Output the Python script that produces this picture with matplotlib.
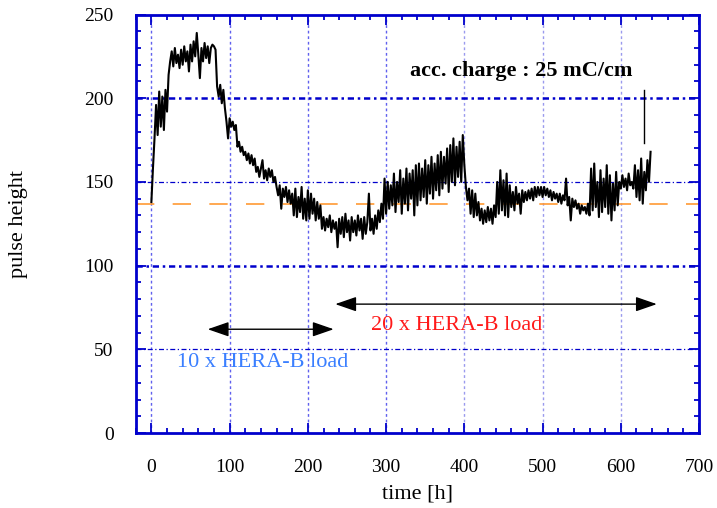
import matplotlib
matplotlib.use("Agg")
import matplotlib.pyplot as plt
import numpy as np

plt.rcParams['font.family'] = ['Liberation Serif', 'DejaVu Serif']

# time [h] and pulse height (2 h sampling)
time_h = [
    0, 2, 4, 6, 8, 10, 12, 14, 16, 18,
    20, 22, 24, 26, 28, 30, 32, 34, 36, 38,
    40, 42, 44, 46, 48, 50, 52, 54, 56, 58,
    60, 62, 64, 66, 68, 70, 72, 74, 76, 78,
    80, 82, 84, 86, 88, 90, 92, 94, 96, 98,
    100, 102, 104, 106, 108, 110, 112, 114, 116, 118,
    120, 122, 124, 126, 128, 130, 132, 134, 136, 138,
    140, 142, 144, 146, 148, 150, 152, 154, 156, 158,
    160, 162, 164, 166, 168, 170, 172, 174, 176, 178,
    180, 182, 184, 186, 188, 190, 192, 194, 196, 198,
    200, 202, 204, 206, 208, 210, 212, 214, 216, 218,
    220, 222, 224, 226, 228, 230, 232, 234, 236, 238,
    240, 242, 244, 246, 248, 250, 252, 254, 256, 258,
    260, 262, 264, 266, 268, 270, 272, 274, 276, 278,
    280, 282, 284, 286, 288, 290, 292, 294, 296, 298,
    300, 302, 304, 306, 308, 310, 312, 314, 316, 318,
    320, 322, 324, 326, 328, 330, 332, 334, 336, 338,
    340, 342, 344, 346, 348, 350, 352, 354, 356, 358,
    360, 362, 364, 366, 368, 370, 372, 374, 376, 378,
    380, 382, 384, 386, 388, 390, 392, 394, 396, 398,
    400, 402, 404, 406, 408, 410, 412, 414, 416, 418,
    420, 422, 424, 426, 428, 430, 432, 434, 436, 438,
    440, 442, 444, 446, 448, 450, 452, 454, 456, 458,
    460, 462, 464, 466, 468, 470, 472, 474, 476, 478,
    480, 482, 484, 486, 488, 490, 492, 494, 496, 498,
    500, 502, 504, 506, 508, 510, 512, 514, 516, 518,
    520, 522, 524, 526, 528, 530, 532, 534, 536, 538,
    540, 542, 544, 546, 548, 550, 552, 554, 556, 558,
    560, 562, 564, 566, 568, 570, 572, 574, 576, 578,
    580, 582, 584, 586, 588, 590, 592, 594, 596, 598,
    600, 602, 604, 606, 608, 610, 612, 614, 616, 618,
    620, 622, 624, 626, 628, 630, 632, 634, 636, 638,
]
pulse_height = [
    138, 158, 176, 196, 178, 204, 183, 201, 181, 205,
    192, 214, 222, 228, 219, 230, 221, 226, 218, 229,
    220, 231, 222, 228, 216, 232, 222, 234, 225, 239,
    226, 212, 230, 222, 233, 224, 231, 221, 230, 232,
    231, 229, 207, 201, 208, 197, 205, 194, 186, 176,
    188, 183, 186, 181, 184, 171, 174, 168, 171, 166,
    168, 163, 167, 161, 166, 160, 164, 156, 159, 153,
    158, 163, 152, 157, 151, 158, 153, 157, 150, 153,
    147, 142, 148, 134, 146, 141, 147, 138, 145, 137,
    143, 130, 146, 129, 141, 132, 147, 128, 140, 127,
    145, 128, 143, 131, 140, 127, 138, 128, 136, 122,
    129, 121, 128, 123, 130, 120, 127, 122, 126, 111,
    128, 119, 129, 117, 131, 120, 127, 115, 129, 120,
    127, 118, 130, 121, 128, 116, 129, 119, 126, 143,
    121, 128, 119, 130, 122, 133, 126, 137, 128, 152,
    131, 150, 134, 148, 136, 155, 132, 150, 138, 157,
    131, 152, 137, 158, 133, 155, 140, 157, 130, 160,
    136, 161, 139, 158, 141, 163, 137, 160, 143, 165,
    140, 161, 145, 166, 142, 168, 146, 165, 149, 170,
    144, 172, 150, 176, 148, 171, 153, 174, 150, 178,
    160, 147, 139, 146, 131, 145, 129, 143, 130, 138,
    127, 134, 125, 133, 126, 135, 127, 134, 125, 136,
    129, 150, 131, 157, 133, 151, 130, 155, 129, 148,
    135, 144, 133, 147, 137, 143, 131, 145, 138, 144,
    139, 145, 140, 146, 139, 147, 141, 147, 142, 147,
    141, 147, 142, 146, 141, 145, 139, 144, 140, 143,
    138, 143, 137, 142, 139, 152, 136, 141, 127, 140,
    135, 139, 134, 137, 131, 136, 133, 135, 131, 137,
    130, 158, 133, 161, 135, 150, 129, 157, 132, 152,
    135, 160, 131, 154, 127, 149, 133, 156, 136, 150,
    146, 154, 147, 152, 145, 155, 148, 150, 146, 160,
    141, 157, 139, 164, 137, 156, 145, 163, 150, 168,
]
# isolated spike near the end
spike_t = [629, 629]
spike_ph = [173, 205]

reference_level = 137
x_ticks = [0, 100, 200, 300, 400, 500, 600, 700]
y_ticks = [0, 50, 100, 150, 200, 250]

blue = '#0000cc'

fig = plt.figure(figsize=(7.17, 5.08), dpi=100)
ax = fig.add_axes([0.1893, 0.1476, 0.7857, 0.8238])
ax.set_xlim(-20, 700)
ax.set_ylim(0, 250)

# grid
for xv in x_ticks[:-1]:
    col = '#6060ee' if xv < 400 else '#9a9aee'
    ax.axvline(xv, color=col, lw=1.0, linestyle=(0, (2, 2)), zorder=1)
for yv in [100, 200]:
    ax.axhline(yv, color=blue, lw=1.8, linestyle=(0, (2.5, 1.5, 1, 1.5)), zorder=1)
for yv in [50, 150]:
    ax.axhline(yv, color=blue, lw=0.9, linestyle=(0, (4, 2, 1, 2)), zorder=1)

ax.axhline(reference_level, color='#ff9933', lw=1.2, linestyle=(0, (11, 11)), zorder=2)

ax.plot(time_h, pulse_height, color='black', lw=1.5, zorder=3)
ax.plot(spike_t, spike_ph, color='black', lw=1.0, zorder=3)

for s in ax.spines.values():
    s.set_color(blue)
    s.set_linewidth(2)

ax.set_xticks(x_ticks)
ax.set_yticks(y_ticks)
ax.set_xticks(np.arange(-20, 701, 20), minor=True)
ax.set_yticks(np.arange(0, 251, 10), minor=True)
ax.tick_params(which='both', direction='in', color=blue, top=True, right=True,
               labelsize=14, labelcolor='black')
ax.tick_params(which='major', length=7, width=1.3)
ax.tick_params(axis='x', which='major', pad=19)
ax.tick_params(axis='y', which='major', pad=16)
ax.tick_params(which='minor', length=3.5, width=1.3)

ax.set_xlabel('time [h]', fontsize=16)
ax.set_ylabel('pulse height', fontsize=16)
ax.xaxis.set_label_coords(0.5, -0.122)
ax.yaxis.set_label_coords(-0.191, 0.5)

ax.text(330, 216, 'acc. charge : 25 mC/cm', fontsize=16, fontweight='bold',
        va='center', ha='left')
ax.text(33, 42, '10 x HERA-B load', fontsize=16, color='#3a7fff', va='center', ha='left')
ax.text(281, 64, '20 x HERA-B load', fontsize=16, color='#ff1a1a', va='center', ha='left')

arrow = dict(arrowstyle='<|-|>,head_length=1.3,head_width=0.45', color='black', lw=1.0,
             shrinkA=0, shrinkB=0)
ax.annotate('', xy=(233, 62), xytext=(72, 62), arrowprops=arrow)
ax.annotate('', xy=(646, 77), xytext=(235, 77), arrowprops=arrow)

fig.savefig('out.png', dpi=100)
